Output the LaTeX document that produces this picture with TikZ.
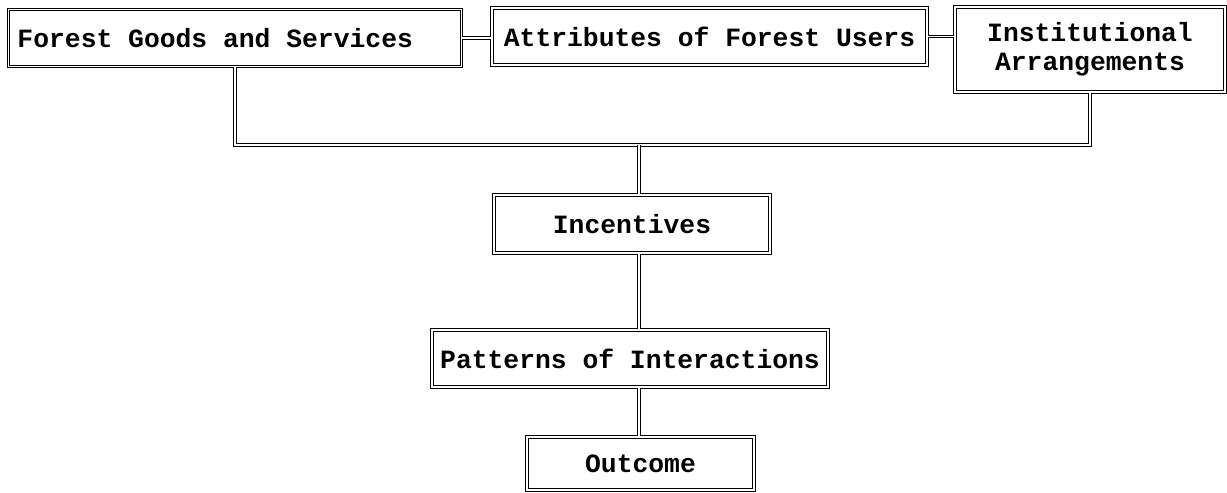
\documentclass[tikz,border=0pt]{standalone}
\usepackage{fontspec}
\setmonofont{Liberation Mono}
\usetikzlibrary{positioning}

\begin{document}
\begin{tikzpicture}[
        box/.style={draw, double, line width=0.6pt, double distance=0.9pt, inner sep=0pt, align=center, font=\ttfamily\bfseries\fontsize{15}{16.5}\selectfont},
        wire/.style={draw, double, line width=0.6pt, double distance=0.9pt}
    ]
        \useasboundingbox (0,0) rectangle (24.54,-9.84);
        % Fila superior: tres factores
        \node[box, inner xsep=0.18cm, minimum height=1.14cm] (goods) at (4.70,-0.76) {\makebox[8.7cm][l]{Forest Goods and Services}};
        \node[box, minimum width=8.7cm, minimum height=1.14cm] (attr) at (14.19,-0.73) {Attributes of Forest Users};
        \node[box, minimum width=5.4cm, minimum height=1.7cm] (inst) at (21.80,-0.99) {Institutional\\Arrangements};
        \coordinate (bus) at (12.78,-2.9);
        % Columna central hacia abajo
        \node[box, minimum width=5.52cm, minimum height=1.16cm] (incent) at (12.64,-4.48) {Incentives};
        \node[box, minimum width=7.92cm, minimum height=1.14cm] (patt) at (12.60,-7.17) {Patterns of Interactions};
        \node[box, minimum width=4.54cm, minimum height=1.06cm] (outc) at (12.81,-9.27) {Outcome};
        % Conectores
        \draw[wire] (goods.east) -- (goods.east -| attr.west);
        \draw[wire] (attr.east) -- (attr.east -| inst.west);
        \draw[wire] (goods.south) |- (bus) -| (inst.south);
        \draw[wire] (bus) -- (bus |- incent.north);
        \draw[wire] (bus |- incent.south) -- (bus |- patt.north);
        \draw[wire] (bus |- patt.south) -- (bus |- outc.north);
    \end{tikzpicture}
\end{document}
